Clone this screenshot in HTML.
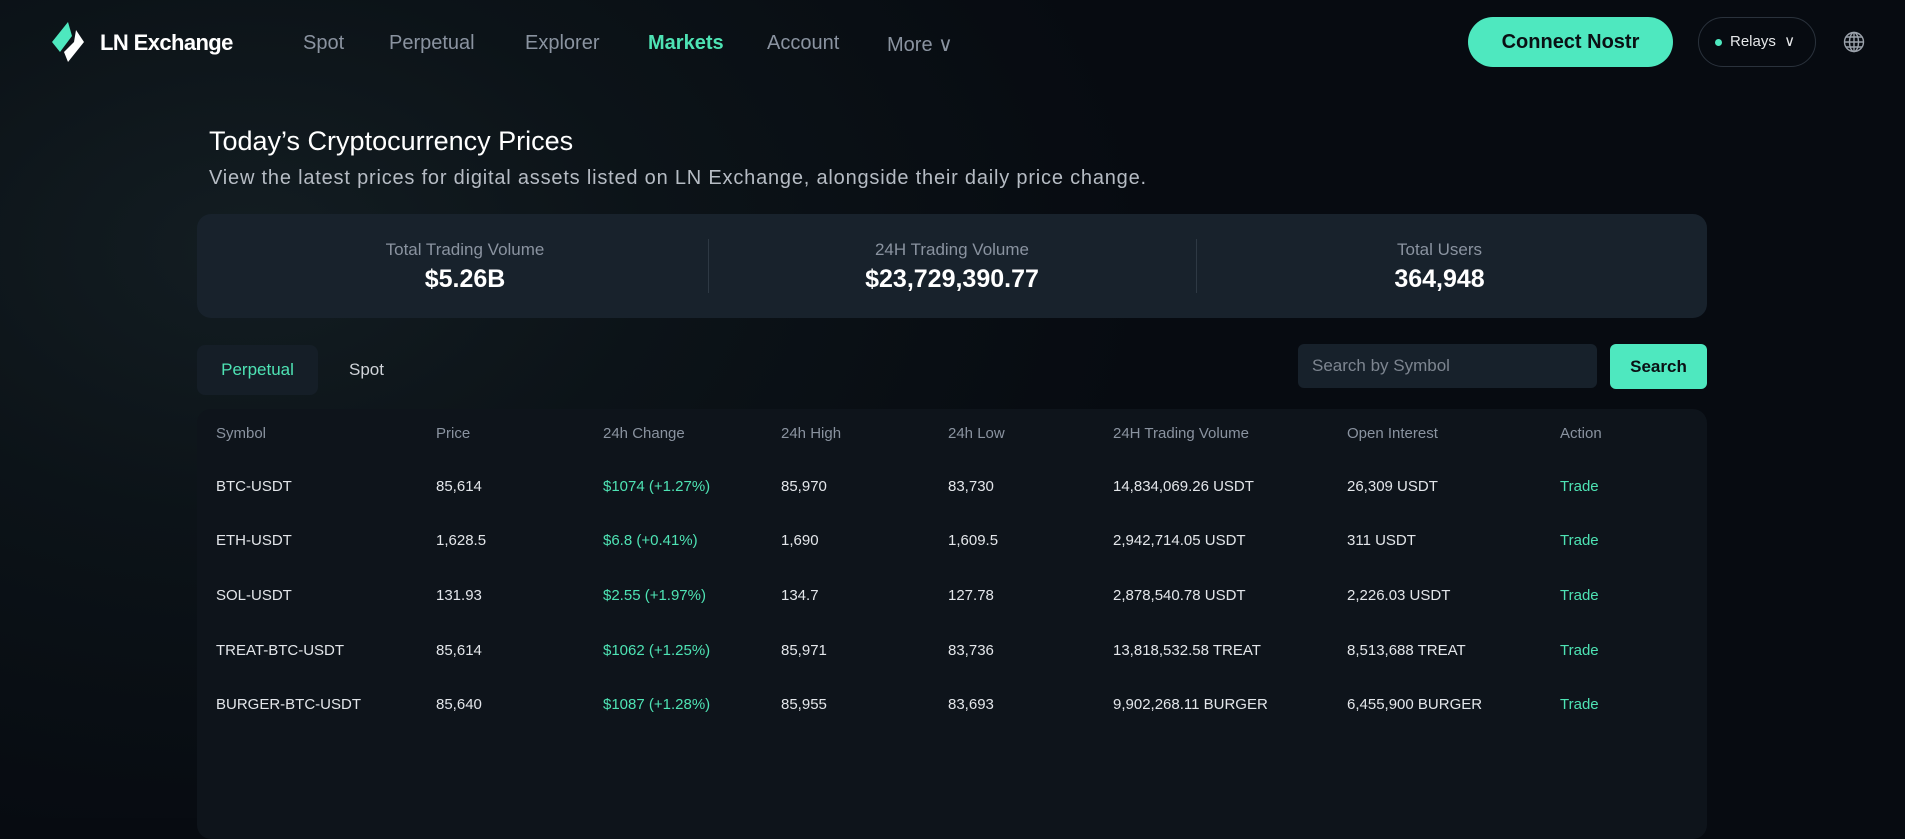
<!DOCTYPE html>
<html><head><meta charset="utf-8"><style>
*{margin:0;padding:0;box-sizing:border-box}
body{width:1905px;height:818px;overflow:hidden;font-family:"Liberation Sans",sans-serif;background:#070b11;position:relative;color:#fff}
.bg{position:absolute;inset:0;background:radial-gradient(ellipse 900px 600px at 250px 250px,#131d22 0%,#0c1318 45%,rgba(7,11,17,0) 100%)}
.a{position:absolute;white-space:nowrap}
.nav{top:32px;font-size:20px;color:#8a93a0}
.card{position:absolute;left:197px;width:1510px;border-radius:14px}
.th{top:425px;font-size:15px;color:#8a93a0}
.td{font-size:15px;color:#e3e6ea}
.g{color:#4ee3b4}
</style></head><body>
<div class="bg"></div>
<svg class="a" style="left:46px;top:20px" width="44" height="44" viewBox="0 0 44 44">
<path d="M22 2 L6 22 L14 32 L26 16 Z" fill="#4ee8bf"/>
<path d="M30 10 L38 22 L22 42 L18 32 L28 22 Z" fill="#fff"/>
</svg>
<div class="a" style="left:100px;top:30px;font-size:22px;font-weight:bold;letter-spacing:-0.6px">LN Exchange</div>
<div class="a nav" style="left:303px">Spot</div>
<div class="a nav" style="left:389px">Perpetual</div>
<div class="a nav" style="left:525px">Explorer</div>
<div class="a nav" style="left:648px;color:#4ee3b4;font-weight:bold">Markets</div>
<div class="a nav" style="left:767px">Account</div>
<div class="a nav" style="left:887px">More ∨</div>
<div class="a" style="left:1468px;top:17px;width:205px;height:50px;border-radius:25px;background:#4ee8bf;color:#0a1014;font-size:20px;font-weight:bold;text-align:center;line-height:50px">Connect Nostr</div>
<div class="a" style="left:1698px;top:17px;width:118px;height:50px;border-radius:25px;border:1px solid #2a323c;font-size:15px;line-height:48px;padding-left:16px;color:#e6e8ea"><span style="display:inline-block;width:7px;height:7px;border-radius:50%;background:#4ee8bf;margin-right:8px;vertical-align:middle"></span>Relays&nbsp;&nbsp;∨</div>
<svg class="a" style="left:1843px;top:31px" width="22" height="22" viewBox="0 0 22 22" fill="none" stroke="#9aa1aa" stroke-width="1.4"><circle cx="11" cy="11" r="9.5"/><ellipse cx="11" cy="11" rx="4.5" ry="9.5"/><path d="M1.5 11h19M3 6h16M3 16h16M11 1.5v19"/></svg>
<div class="a" style="left:209px;top:126px;font-size:27px">Today’s Cryptocurrency Prices</div>
<div class="a" style="left:209px;top:167px;font-size:20px;color:#b6bcc4;letter-spacing:0.8px">View the latest prices for digital assets listed on LN Exchange, alongside their daily price change.</div>
<div class="card" style="top:214px;height:104px;background:#18222c"></div>
<div class="a" style="left:708px;top:239px;width:1px;height:54px;background:#2e3944"></div>
<div class="a" style="left:1196px;top:239px;width:1px;height:54px;background:#2e3944"></div>
<div class="a" style="left:197px;width:536px;text-align:center;top:240px;font-size:17px;color:#8a93a0">Total Trading Volume</div>
<div class="a" style="left:197px;width:536px;text-align:center;top:265px;font-size:25px;font-weight:bold">$5.26B</div>
<div class="a" style="left:708px;width:488px;text-align:center;top:240px;font-size:17px;color:#8a93a0">24H Trading Volume</div>
<div class="a" style="left:708px;width:488px;text-align:center;top:265px;font-size:25px;font-weight:bold">$23,729,390.77</div>
<div class="a" style="left:1196px;width:487px;text-align:center;top:240px;font-size:17px;color:#8a93a0">Total Users</div>
<div class="a" style="left:1196px;width:487px;text-align:center;top:265px;font-size:25px;font-weight:bold">364,948</div>
<div class="a" style="left:197px;top:345px;width:121px;height:50px;border-radius:8px;background:#151e27;color:#4ee3b4;font-size:17px;text-align:center;line-height:50px">Perpetual</div>
<div class="a" style="left:349px;top:360px;font-size:17px;color:#d0d4d9">Spot</div>
<div class="a" style="left:1298px;top:344px;width:299px;height:44px;border-radius:6px;background:#17212b;color:#7d8590;font-size:17px;line-height:44px;padding-left:14px">Search by Symbol</div>
<div class="a" style="left:1610px;top:344px;width:97px;height:45px;border-radius:6px;background:#4ee8bf;color:#0a1014;font-size:17px;font-weight:bold;text-align:center;line-height:45px">Search</div>
<div class="card" style="top:409px;height:430px;background:#0e141b"></div>
<div class="a th" style="left:216px">Symbol</div>
<div class="a th" style="left:436px">Price</div>
<div class="a th" style="left:603px">24h Change</div>
<div class="a th" style="left:781px">24h High</div>
<div class="a th" style="left:948px">24h Low</div>
<div class="a th" style="left:1113px">24H Trading Volume</div>
<div class="a th" style="left:1347px">Open Interest</div>
<div class="a th" style="left:1560px">Action</div>

<div class="a td" style="top:478px;left:216px">BTC-USDT</div><div class="a td" style="top:478px;left:436px">85,614</div><div class="a td g" style="top:478px;left:603px">$1074 (+1.27%)</div><div class="a td" style="top:478px;left:781px">85,970</div><div class="a td" style="top:478px;left:948px">83,730</div><div class="a td" style="top:478px;left:1113px">14,834,069.26 USDT</div><div class="a td" style="top:478px;left:1347px">26,309 USDT</div><div class="a td g" style="top:478px;left:1560px">Trade</div>

<div class="a td" style="top:532px;left:216px">ETH-USDT</div><div class="a td" style="top:532px;left:436px">1,628.5</div><div class="a td g" style="top:532px;left:603px">$6.8 (+0.41%)</div><div class="a td" style="top:532px;left:781px">1,690</div><div class="a td" style="top:532px;left:948px">1,609.5</div><div class="a td" style="top:532px;left:1113px">2,942,714.05 USDT</div><div class="a td" style="top:532px;left:1347px">311 USDT</div><div class="a td g" style="top:532px;left:1560px">Trade</div>

<div class="a td" style="top:587px;left:216px">SOL-USDT</div><div class="a td" style="top:587px;left:436px">131.93</div><div class="a td g" style="top:587px;left:603px">$2.55 (+1.97%)</div><div class="a td" style="top:587px;left:781px">134.7</div><div class="a td" style="top:587px;left:948px">127.78</div><div class="a td" style="top:587px;left:1113px">2,878,540.78 USDT</div><div class="a td" style="top:587px;left:1347px">2,226.03 USDT</div><div class="a td g" style="top:587px;left:1560px">Trade</div>

<div class="a td" style="top:642px;left:216px">TREAT-BTC-USDT</div><div class="a td" style="top:642px;left:436px">85,614</div><div class="a td g" style="top:642px;left:603px">$1062 (+1.25%)</div><div class="a td" style="top:642px;left:781px">85,971</div><div class="a td" style="top:642px;left:948px">83,736</div><div class="a td" style="top:642px;left:1113px">13,818,532.58 TREAT</div><div class="a td" style="top:642px;left:1347px">8,513,688 TREAT</div><div class="a td g" style="top:642px;left:1560px">Trade</div>

<div class="a td" style="top:696px;left:216px">BURGER-BTC-USDT</div><div class="a td" style="top:696px;left:436px">85,640</div><div class="a td g" style="top:696px;left:603px">$1087 (+1.28%)</div><div class="a td" style="top:696px;left:781px">85,955</div><div class="a td" style="top:696px;left:948px">83,693</div><div class="a td" style="top:696px;left:1113px">9,902,268.11 BURGER</div><div class="a td" style="top:696px;left:1347px">6,455,900 BURGER</div><div class="a td g" style="top:696px;left:1560px">Trade</div>
</body></html>
